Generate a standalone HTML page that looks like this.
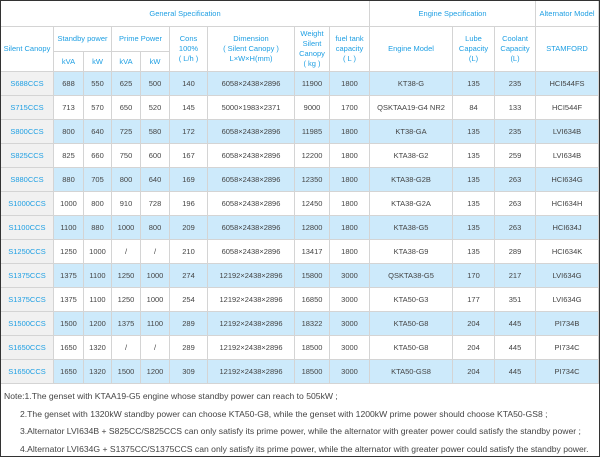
<!DOCTYPE html>
<html><head><meta charset="utf-8"><style>
html,body{margin:0;padding:0;background:#fff}
#w{position:relative;width:598px;height:455px;border:1px solid #333;overflow:hidden;font-family:"Liberation Sans",sans-serif}
table{border-collapse:collapse;table-layout:fixed;width:598px;position:absolute;left:-1px;top:-1px}
td{border:1px solid #d4d4d4;text-align:center;font-size:7.5px;color:#444;padding:0;line-height:10px}
.h td{color:#1e9fe3;}
tr.d td{height:23px}
tr.b td{background:#cdeafb}
td.f{background:#f1f1f1 !important;color:#1e9fe3}
#n{position:absolute;left:3px;top:387px;font-size:8.6px;color:#444;line-height:17.7px;white-space:nowrap}
#n div.i{padding-left:16px}
</style></head><body><div id="w">
<table>
<colgroup><col style="width:53px"><col style="width:30px"><col style="width:28px"><col style="width:29px"><col style="width:29px"><col style="width:38px"><col style="width:87px"><col style="width:35px"><col style="width:40px"><col style="width:83px"><col style="width:42px"><col style="width:41px"><col style="width:63px"></colgroup>
<tr class="h"><td colspan="9" style="height:25px;border-left-color:#fff">General Specification</td><td colspan="3">Engine Specification</td><td>Alternator Model</td></tr>
<tr class="h"><td rowspan="2" style="height:44px">Silent Canopy</td><td colspan="2" style="height:24px">Standby power</td><td colspan="2">Prime Power</td><td rowspan="2">Cons<br>100%<br>( L/h )</td><td rowspan="2">Dimension<br>( Silent Canopy )<br>L×W×H(mm)</td><td rowspan="2">Weight<br>Silent<br>Canopy<br>( kg )</td><td rowspan="2">fuel tank<br>capacity<br>( L )</td><td rowspan="2">Engine Model</td><td rowspan="2">Lube<br>Capacity<br>(L)</td><td rowspan="2">Coolant<br>Capacity<br>(L)</td><td rowspan="2">STAMFORD</td></tr>
<tr class="h"><td style="height:19px">kVA</td><td>kW</td><td>kVA</td><td>kW</td></tr>
<tr class="d b"><td class="f">S688CCS</td><td>688</td><td>550</td><td>625</td><td>500</td><td>140</td><td>6058×2438×2896</td><td>11900</td><td>1800</td><td>KT38-G</td><td>135</td><td>235</td><td>HCI544FS</td></tr>
<tr class="d"><td class="f">S715CCS</td><td>713</td><td>570</td><td>650</td><td>520</td><td>145</td><td>5000×1983×2371</td><td>9000</td><td>1700</td><td>QSKTAA19-G4 NR2</td><td>84</td><td>133</td><td>HCI544F</td></tr>
<tr class="d b"><td class="f">S800CCS</td><td>800</td><td>640</td><td>725</td><td>580</td><td>172</td><td>6058×2438×2896</td><td>11985</td><td>1800</td><td>KT38-GA</td><td>135</td><td>235</td><td>LVI634B</td></tr>
<tr class="d"><td class="f">S825CCS</td><td>825</td><td>660</td><td>750</td><td>600</td><td>167</td><td>6058×2438×2896</td><td>12200</td><td>1800</td><td>KTA38-G2</td><td>135</td><td>259</td><td>LVI634B</td></tr>
<tr class="d b"><td class="f">S880CCS</td><td>880</td><td>705</td><td>800</td><td>640</td><td>169</td><td>6058×2438×2896</td><td>12350</td><td>1800</td><td>KTA38-G2B</td><td>135</td><td>263</td><td>HCI634G</td></tr>
<tr class="d"><td class="f">S1000CCS</td><td>1000</td><td>800</td><td>910</td><td>728</td><td>196</td><td>6058×2438×2896</td><td>12450</td><td>1800</td><td>KTA38-G2A</td><td>135</td><td>263</td><td>HCI634H</td></tr>
<tr class="d b"><td class="f">S1100CCS</td><td>1100</td><td>880</td><td>1000</td><td>800</td><td>209</td><td>6058×2438×2896</td><td>12800</td><td>1800</td><td>KTA38-G5</td><td>135</td><td>263</td><td>HCI634J</td></tr>
<tr class="d"><td class="f">S1250CCS</td><td>1250</td><td>1000</td><td>/</td><td>/</td><td>210</td><td>6058×2438×2896</td><td>13417</td><td>1800</td><td>KTA38-G9</td><td>135</td><td>289</td><td>HCI634K</td></tr>
<tr class="d b"><td class="f">S1375CCS</td><td>1375</td><td>1100</td><td>1250</td><td>1000</td><td>274</td><td>12192×2438×2896</td><td>15800</td><td>3000</td><td>QSKTA38-G5</td><td>170</td><td>217</td><td>LVI634G</td></tr>
<tr class="d"><td class="f">S1375CCS</td><td>1375</td><td>1100</td><td>1250</td><td>1000</td><td>254</td><td>12192×2438×2896</td><td>16850</td><td>3000</td><td>KTA50-G3</td><td>177</td><td>351</td><td>LVI634G</td></tr>
<tr class="d b"><td class="f">S1500CCS</td><td>1500</td><td>1200</td><td>1375</td><td>1100</td><td>289</td><td>12192×2438×2896</td><td>18322</td><td>3000</td><td>KTA50-G8</td><td>204</td><td>445</td><td>PI734B</td></tr>
<tr class="d"><td class="f">S1650CCS</td><td>1650</td><td>1320</td><td>/</td><td>/</td><td>289</td><td>12192×2438×2896</td><td>18500</td><td>3000</td><td>KTA50-G8</td><td>204</td><td>445</td><td>PI734C</td></tr>
<tr class="d b"><td class="f">S1650CCS</td><td>1650</td><td>1320</td><td>1500</td><td>1200</td><td>309</td><td>12192×2438×2896</td><td>18500</td><td>3000</td><td>KTA50-GS8</td><td>204</td><td>445</td><td>PI734C</td></tr>
</table>
<div id="n">
<div>Note:1.The genset with KTAA19-G5 engine whose standby power can reach to 505kW ;</div>
<div class="i">2.The genset with 1320kW standby power can choose KTA50-G8, while the genset with 1200kW prime power should choose KTA50-GS8 ;</div>
<div class="i">3.Alternator LVI634B + S825CC/S825CCS can only satisfy its prime power, while the alternator with greater power could satisfy the standby power ;</div>
<div class="i">4.Alternator LVI634G + S1375CC/S1375CCS can only satisfy its prime power, while the alternator with greater power could satisfy the standby power.</div>
</div>
</div></body></html>
